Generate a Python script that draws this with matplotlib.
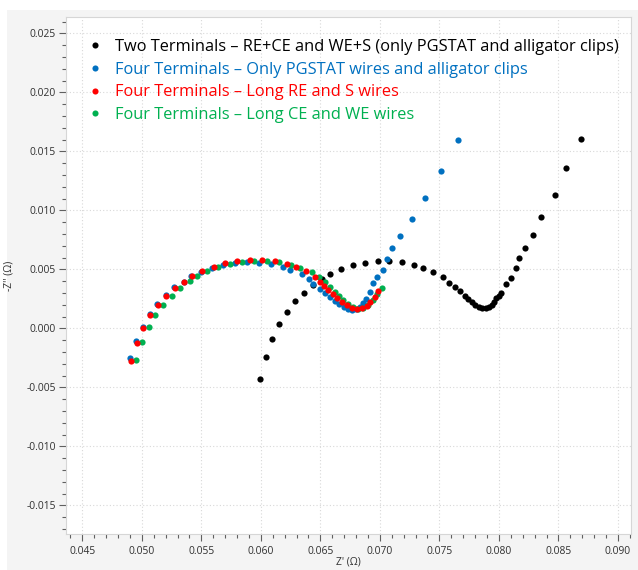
import matplotlib
matplotlib.use("Agg")
import matplotlib.pyplot as plt
from matplotlib.patches import Rectangle
from matplotlib.lines import Line2D
from matplotlib.ticker import MultipleLocator, FormatStrFormatter

# ---------------- data (Z' and -Z'' in ohm) ----------------
two_terminal_zre = [0.05994, 0.06045, 0.06093, 0.06154, 0.06219, 0.06287, 0.06360, 0.06439,
                    0.06512, 0.06585, 0.06674, 0.06773, 0.06873, 0.06981, 0.07079, 0.07186,
                    0.07285, 0.07362, 0.07450, 0.07527, 0.07580, 0.07633, 0.07677, 0.07713,
                    0.07742, 0.07772, 0.07801, 0.07831, 0.07860, 0.07889, 0.07915, 0.07940,
                    0.07961, 0.07979, 0.07999, 0.08021, 0.08060, 0.08102, 0.08141, 0.08169,
                    0.08217, 0.08286, 0.08357, 0.08470, 0.08561, 0.08687]
two_terminal_zim = [-0.004297, -0.002458, -0.000932, 0.000339, 0.001381, 0.002288, 0.003034, 0.003695,
                    0.004178, 0.004627, 0.005042, 0.005339, 0.005559, 0.005686, 0.005703, 0.005593,
                    0.005390, 0.005136, 0.004754, 0.004347, 0.003881, 0.003500, 0.003136, 0.002763,
                    0.002483, 0.002229, 0.002017, 0.001847, 0.001720, 0.001695, 0.001805, 0.002017,
                    0.002271, 0.002542, 0.002780, 0.002992, 0.003729, 0.004288, 0.005136, 0.005983,
                    0.006805, 0.007949, 0.009415, 0.011322, 0.013559, 0.016085]

four_pgstat_zre = [0.04902, 0.04953, 0.05007, 0.05068, 0.05131, 0.05200, 0.05274, 0.05354,
                   0.05413, 0.05499, 0.05593, 0.05684, 0.05782, 0.05885, 0.05986, 0.06084,
                   0.06183, 0.06246, 0.06342, 0.06406, 0.06441, 0.06496, 0.06542, 0.06584,
                   0.06622, 0.06659, 0.06697, 0.06733, 0.06769, 0.06802, 0.06832, 0.06859,
                   0.06886, 0.06914, 0.06943, 0.06977, 0.07022, 0.07062, 0.07103, 0.07170,
                   0.07266, 0.07377, 0.07510, 0.07653]
four_pgstat_zim = [-0.002542, -0.001051, 0.000127, 0.001186, 0.002093, 0.002822, 0.003475, 0.003949,
                   0.004458, 0.004814, 0.005153, 0.005390, 0.005508, 0.005593, 0.005559, 0.005424,
                   0.005220, 0.004966, 0.004576, 0.004153, 0.003729, 0.003305, 0.002992, 0.002653,
                   0.002331, 0.002042, 0.001805, 0.001636, 0.001551, 0.001610, 0.001805, 0.002144,
                   0.002525, 0.003119, 0.003814, 0.004322, 0.004983, 0.005890, 0.006788, 0.007822,
                   0.009237, 0.011068, 0.013356, 0.015958]

four_long_re_s_zre = [0.04909, 0.04955, 0.05008, 0.05070, 0.05137, 0.05201, 0.05277, 0.05356,
                      0.05419, 0.05505, 0.05606, 0.05698, 0.05796, 0.05905, 0.06011, 0.06118,
                      0.06216, 0.06294, 0.06378, 0.06456, 0.06496, 0.06529, 0.06565, 0.06607,
                      0.06641, 0.06678, 0.06720, 0.06762, 0.06804, 0.06846, 0.06888, 0.06921,
                      0.06957, 0.06985]
four_long_re_s_zim = [-0.002771, -0.001271, 0.000000, 0.001127, 0.002000, 0.002763, 0.003432, 0.003966,
                      0.004432, 0.004856, 0.005237, 0.005508, 0.005703, 0.005788, 0.005788, 0.005678,
                      0.005449, 0.005195, 0.004856, 0.004373, 0.003949, 0.003585, 0.003246, 0.002907,
                      0.002593, 0.002254, 0.001975, 0.001746, 0.001636, 0.001695, 0.001890, 0.002203,
                      0.002678, 0.003186]

four_long_ce_we_zre = [0.04951, 0.05000, 0.05056, 0.05113, 0.05179, 0.05249, 0.05324, 0.05404,
                       0.05467, 0.05551, 0.05643, 0.05740, 0.05838, 0.05944, 0.06051, 0.06154,
                       0.06252, 0.06328, 0.06426, 0.06490, 0.06538, 0.06585, 0.06622, 0.06658,
                       0.06691, 0.06733, 0.06775, 0.06817, 0.06859, 0.06901, 0.06938, 0.06977,
                       0.07014]
four_long_ce_we_zim = [-0.002712, -0.001161, 0.000085, 0.001110, 0.002017, 0.002763, 0.003441, 0.003992,
                       0.004432, 0.004839, 0.005195, 0.005449, 0.005644, 0.005729, 0.005729, 0.005593,
                       0.005364, 0.005136, 0.004797, 0.004322, 0.003898, 0.003475, 0.003102, 0.002763,
                       0.002398, 0.002034, 0.001780, 0.001610, 0.001695, 0.001975, 0.002398, 0.002881,
                       0.003390]

series_labels = ["Two Terminals \u2013 RE+CE and WE+S (only PGSTAT and alligator clips)",
                 "Four Terminals \u2013 Only PGSTAT wires and alligator clips",
                 "Four Terminals \u2013 Long RE and S wires",
                 "Four Terminals \u2013 Long CE and WE wires"]
series_colors = ["#000000", "#0070C0", "#FF0000", "#00B050"]

x_label = "Z' (\u03a9)"
y_label = "-Z'' (\u03a9)"

# ---------------- figure ----------------
W, H = 638, 570
fig = plt.figure(figsize=(W / 100, H / 100), dpi=100, facecolor="white")
fig.patches.append(Rectangle((7 / W, 0), 1 - 7 / W, 1 - 10 / H, transform=fig.transFigure,
                             facecolor="#f4f4f4", edgecolor="none", zorder=-10))

left, right, top, bottom = 65.7, 631, 17.3, 534
ax = fig.add_axes([left / W, 1 - bottom / H, (right - left) / W, (bottom - top) / H])
ax.set_facecolor("white")

fam = ["Open Sans", "DejaVu Sans"]
plt.rcParams["font.family"] = fam
tick_size = 7.4

ms = 20
ax.scatter(two_terminal_zre, two_terminal_zim, s=ms, color=series_colors[0], linewidths=0, zorder=3)
ax.scatter(four_pgstat_zre, four_pgstat_zim, s=ms, color=series_colors[1], linewidths=0, zorder=4)
ax.scatter(four_long_ce_we_zre, four_long_ce_we_zim, s=ms, color=series_colors[3], linewidths=0, zorder=5)
ax.scatter(four_long_re_s_zre, four_long_re_s_zim, s=ms, color=series_colors[2], linewidths=0, zorder=6)

ax.set_xlim(0.0436, 0.0911)
ax.set_ylim(-0.01743, 0.02636)

ax.xaxis.set_major_locator(MultipleLocator(0.005))
ax.xaxis.set_minor_locator(MultipleLocator(0.001))
ax.yaxis.set_major_locator(MultipleLocator(0.005))
ax.yaxis.set_minor_locator(MultipleLocator(0.001))
ax.xaxis.set_major_formatter(FormatStrFormatter("%.3f"))
ax.yaxis.set_major_formatter(FormatStrFormatter("%.3f"))

ax.tick_params(axis="both", which="major", length=5, width=0.8, color="#606060",
               labelcolor="#303030", pad=2)
ax.tick_params(axis="x", which="major", pad=4)
ax.tick_params(axis="both", which="minor", length=3, width=0.8, color="#606060")
for lab in ax.get_xticklabels() + ax.get_yticklabels():
    lab.set_fontfamily(fam)
    lab.set_fontsize(tick_size)

ax.grid(True, which="major", linestyle=(0, (1, 2)), color="#d8d8d8", linewidth=0.8, zorder=0)
ax.set_axisbelow(True)
for sp in ax.spines.values():
    sp.set_color("#d6d6d6")
    sp.set_linewidth(0.8)

ax.set_xlabel(x_label, fontsize=tick_size, color="#303030", fontfamily=fam)
ax.set_ylabel(y_label, fontsize=tick_size, color="#303030", fontfamily=fam)
ax.yaxis.set_label_coords(-(left - 14) / (right - left), 0.5)
ax.xaxis.label.set_verticalalignment("center")
ax.xaxis.set_label_coords(0.5, -(562 - bottom) / (bottom - top))

handles = [Line2D([], [], linestyle="none", marker="o", markersize=4.4,
                  markerfacecolor=c, markeredgewidth=0) for c in series_colors]
leg = ax.legend(handles, series_labels, loc="upper left",
                bbox_to_anchor=(88.6 / W, 1 - 39 / H), bbox_transform=fig.transFigure,
                frameon=False, labelcolor=series_colors,
                handlelength=0.8, handletextpad=0.82, borderpad=0, borderaxespad=0,
                labelspacing=0.41, prop=dict(family=fam, size=11.8))

fig.savefig("out.png", dpi=100, facecolor=fig.get_facecolor())
